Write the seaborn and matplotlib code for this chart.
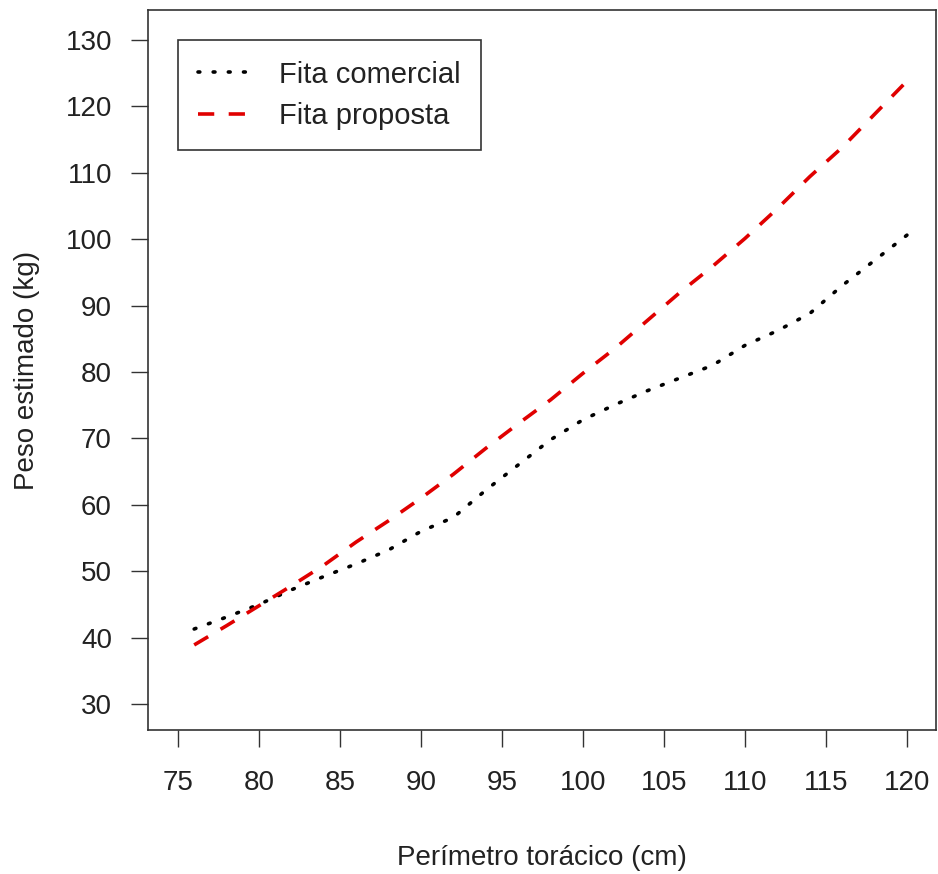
import numpy as np
import pandas as pd
import matplotlib
matplotlib.use("Agg")
import matplotlib.pyplot as plt
import seaborn as sns

# data
perimetro = [76, 78, 80, 82, 84, 86, 88, 90, 92, 94, 96, 98,
             100, 102, 104, 106, 108, 110, 112, 114, 116, 118, 120]
peso_comercial = [41.3, 43.1, 45.0, 47.2, 49.2, 51.1, 53.2, 56.0, 58.1, 62.2, 66.0, 69.8,
                  72.8, 75.1, 77.2, 79.1, 81.0, 84.0, 86.2, 88.8, 93.0, 96.8, 100.6]
peso_proposta = [38.9, 41.8, 44.8, 47.8, 50.9, 54.4, 57.6, 61.0, 64.6, 68.5, 72.2, 75.8,
                 79.8, 83.6, 87.8, 92.0, 95.9, 100.1, 104.6, 109.4, 113.8, 118.8, 123.8]
series_names = ["Fita comercial", "Fita proposta"]
x_ticks = list(range(75, 121, 5))
y_ticks = list(range(30, 131, 10))

sns.set_style("white")
plt.rcParams['font.family'] = ['Liberation Sans', 'DejaVu Sans']
txt_col = "#222222"

df = pd.DataFrame({
    "perimetro": perimetro + perimetro,
    "peso": peso_comercial + peso_proposta,
    "fita": [series_names[0]] * len(perimetro) + [series_names[1]] * len(perimetro),
})

fig = plt.figure(figsize=(9.38, 8.74), dpi=100)
ax = fig.add_axes([0.1578, 0.1648, 0.8402, 0.8238])

sns.lineplot(data=df[df.fita == series_names[0]], x="perimetro", y="peso",
             color="black", lw=2.6, ax=ax, label=series_names[0])
sns.lineplot(data=df[df.fita == series_names[1]], x="perimetro", y="peso",
             color="#e00000", lw=2.6, ax=ax, label=series_names[1])
ax.lines[0].set_dashes([0.5, 3.7])
ax.lines[0].set_dash_capstyle("round")
ax.lines[1].set_dashes([4.5, 4.0])

ax.set_xlim(73.15, 121.8)
ax.set_ylim(26.1, 134.5)
ax.set_xticks(x_ticks)
ax.set_yticks(y_ticks)
ax.tick_params(axis="both", direction="out", length=12, width=1, color="#333333",
               labelsize=20, labelcolor=txt_col, left=True, bottom=True)
ax.tick_params(axis="x", pad=17)
ax.tick_params(axis="y", pad=14)
for s in ax.spines.values():
    s.set_color("#333333")
    s.set_linewidth(1.2)

ax.set_xlabel("Perímetro torácico (cm)", fontsize=20, labelpad=35, color=txt_col)
ax.set_ylabel("Peso estimado (kg)", fontsize=20, labelpad=18, color=txt_col)

leg = ax.legend(loc="upper left", bbox_to_anchor=(0.038, 0.958), fontsize=21,
                frameon=True, fancybox=False, handlelength=2.0,
                borderpad=0.7, labelspacing=0.45, handletextpad=0.75,
                borderaxespad=0)
leg.get_frame().set_edgecolor("#333333")
leg.get_frame().set_linewidth(1.2)
leg.get_frame().set_alpha(1)
for t in leg.get_texts():
    t.set_color(txt_col)

fig.savefig("out.png", dpi=100)
